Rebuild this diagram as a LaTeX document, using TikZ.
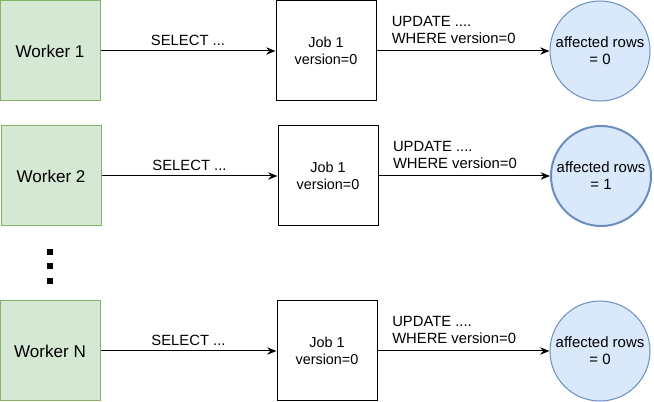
\documentclass[tikz,border=0pt]{standalone}
\usepackage{fontspec}
\setmainfont{Liberation Sans}
\usetikzlibrary{arrows.meta}
\definecolor{workerfill}{HTML}{D5E8D4}
\definecolor{workerline}{HTML}{82B366}
\definecolor{rowsfill}{HTML}{DAE8FC}
\definecolor{rowsline}{HTML}{6C8EBF}
\tikzset{
  worker/.style={draw=workerline,fill=workerfill,minimum size=75pt,inner sep=0pt,font=\fontsize{12.8}{15}\selectfont},
  job/.style={draw,minimum size=75pt,inner sep=0pt,align=center,font=\fontsize{10.8}{13.2}\selectfont},
  rows/.style={draw=rowsline,fill=rowsfill,circle,minimum size=75pt,inner sep=0pt,align=center,font=\fontsize{11.2}{12.8}\selectfont},
  lbl/.style={font=\fontsize{11.1}{12.8}\selectfont},
  dotbox/.style={fill,minimum size=4.8pt,inner sep=0pt}
}
\begin{document}
\begin{tikzpicture}[x=0.75pt,y=-0.75pt,->,>={Stealth[length=7pt,width=5.5pt]},line width=0.75pt]
        \useasboundingbox (0,0) rectangle (654,402);
        \node[worker] (W1) at (50,51) {Worker 1};
        \node[worker] (W2) at (51,176) {Worker 2};
        \node[worker] (WN) at (50,351) {Worker N};
        \node[job] (J1) at (326,51) {Job 1\\version=0};
        \node[job] (J2) at (328,176) {Job 1\\version=0};
        \node[job] (JN) at (327,351) {Job 1\\version=0};
        \node[rows] (R1) at (600,51) {affected rows\\= 0};
        \node[rows,line width=1.5pt] (R2) at (601,176) {affected rows\\= 1};
        \node[rows] (RN) at (600,351) {affected rows\\= 0};
        % the dots between worker 2 and worker N
        \node[dotbox] (D1) at (50,252) {};
        \node[dotbox] (D2) at (50,266) {};
        \node[dotbox] (D3) at (50,281) {};
        \draw (W1) -- node[lbl,above=0.5pt] {SELECT ...} (J1);
        \draw (W2) -- node[lbl,above=0.5pt] {SELECT ...} (J2);
        \draw (WN) -- node[lbl,above=0.5pt] {SELECT ...} (JN);
        \draw (J1) -- node[lbl,above=2pt,align=left,xshift=-7pt] {UPDATE ....\\WHERE version=0} (R1);
        \draw (J2) -- node[lbl,above=2pt,align=left,xshift=-7pt] {UPDATE ....\\WHERE version=0} (R2);
        \draw (JN) -- node[lbl,above=2pt,align=left,xshift=-7pt] {UPDATE ....\\WHERE version=0} (RN);
      \end{tikzpicture}
\end{document}
